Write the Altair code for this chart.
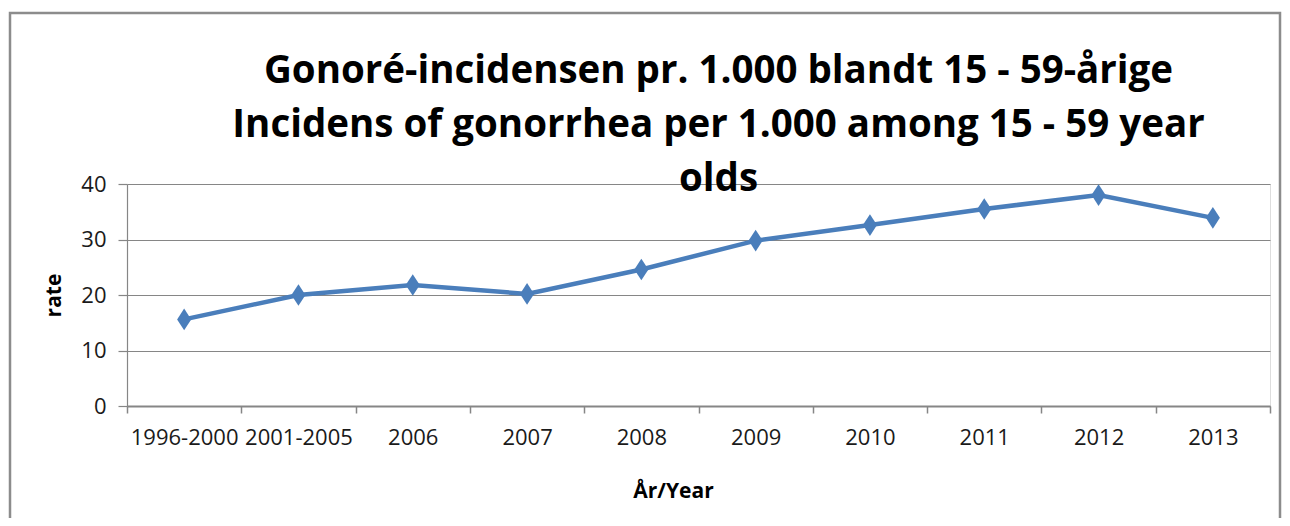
import altair as alt
import pandas as pd

categories = ["1996-2000", "2001-2005", "2006", "2007", "2008", "2009",
              "2010", "2011", "2012", "2013"]
rates = [15.6, 20.0, 21.8, 20.2, 24.6, 29.8, 32.6, 35.5, 38.0, 33.9]

title_lines = ["Gonoré-incidensen pr. 1.000 blandt 15 - 59-årige",
               "Incidens of gonorrhea per 1.000 among 15 - 59 year",
               "olds"]

df = pd.DataFrame({"year": categories, "rate": rates})

FONT = "Open Sans"
BLUE = "#4A7EBB"
GREY = "#868686"

x_enc = alt.X(
    "year:N", sort=categories, bandPosition=0.5,
    scale=alt.Scale(type="band", paddingInner=0, paddingOuter=0),
    axis=alt.Axis(title="År/Year", tickBand="extent", grid=False,
                  labelAngle=0, labelOverlap=False, labelBound=False,
                  labelFont=FONT, labelFontSize=22, labelPadding=14,
                  labelColor="#1a1a1a",
                  tickSize=7, tickColor=GREY, tickWidth=1.5,
                  domainColor=GREY, domainWidth=2,
                  titleFont=FONT, titleFontSize=21, titleFontWeight="bold",
                  titlePadding=32, titleX=546, titleAlign="center",
                  titleColor="#000000"),
)
y_enc = alt.Y(
    "rate:Q",
    scale=alt.Scale(domain=[0, 40], nice=False),
    axis=alt.Axis(title="rate", values=[0, 10, 20, 30, 40],
                  grid=True, gridColor=GREY, gridWidth=1.2,
                  tickSize=9, tickColor=GREY, tickWidth=1.2,
                  domainColor=GREY, domainWidth=1.2,
                  labelFont=FONT, labelFontSize=22, labelPadding=12,
                  labelColor="#1a1a1a",
                  titleFont=FONT, titleFontSize=21, titleFontWeight="bold",
                  titlePadding=16, titleColor="#000000"),
)

base = alt.Chart(df).encode(x=x_enc, y=y_enc)
line = base.mark_line(color=BLUE, strokeWidth=4.5)
pts = base.mark_point(shape="M-0.65,0L0,1L0.65,0L0,-1Z", filled=True,
                      size=470, color=BLUE, opacity=1)

frame = alt.Chart(pd.DataFrame({"a": [0]})).mark_rect(
    fill=None, stroke="#8c8c8c", strokeWidth=2.5
).encode(x=alt.value(-117), x2=alt.value(1153), y=alt.value(-171), y2=alt.value(345))

chart = alt.layer(frame, line, pts).properties(
    width=1143, height=222,
    padding={"left": 119, "top": 176, "right": 12, "bottom": 112},
    autosize=alt.AutoSizeParams(type="none"),
    title=alt.TitleParams(text=title_lines, font=FONT, fontSize=38.5,
                          fontWeight="bold", lineHeight=54, color="#000000",
                          anchor="middle", dx=20, offset=-188),
).configure_axis(
    labelFont=FONT, titleFont=FONT
).configure_view(stroke=None).configure(background="white")

chart.save("out.html", embed_options={"renderer": "svg", "actions": False})
